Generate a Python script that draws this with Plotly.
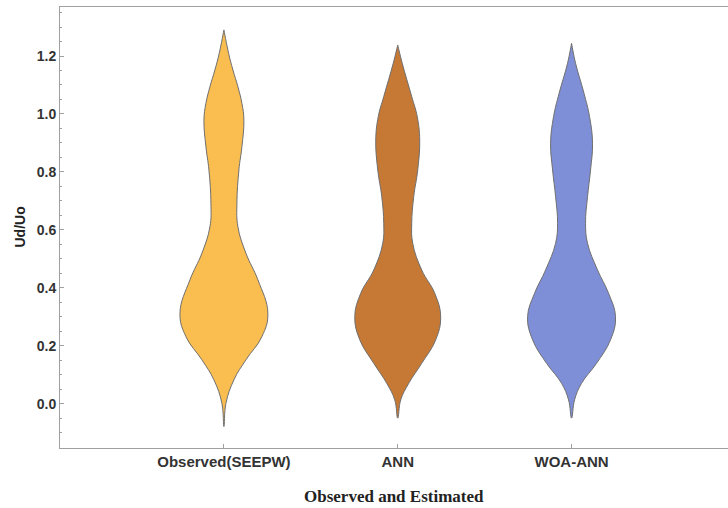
import plotly.graph_objects as go

# Categories and colours
categories = ["Observed(SEEPW)", "ANN", "WOA-ANN"]
fill_colors = ["#F9BD50", "#C57935", "#7E8ED7"]

# Violin outlines: Ud/Uo levels and half-widths (pixels at this chart scale)
obs_levels = [-0.078, 0.002, 0.083, 0.152, 0.232, 0.313, 0.428, 0.520, 0.611,
              0.692, 0.807, 0.887, 0.979, 1.037, 1.094, 1.152, 1.209, 1.290]
obs_width = [0, 2, 10, 22, 38, 44, 34, 22, 14, 13, 15, 18, 20, 18, 14, 9, 4.7, 0]

ann_levels = [-0.049, 0.014, 0.071, 0.140, 0.221, 0.301, 0.382, 0.462, 0.554,
              0.623, 0.715, 0.807, 0.910, 0.991, 1.060, 1.175, 1.238]
ann_width = [0, 3, 11, 24, 38, 43, 37, 24, 15, 14, 16, 20, 22, 19.5, 14, 4.5, 0]

woa_levels = [-0.049, 0.014, 0.071, 0.140, 0.221, 0.301, 0.382, 0.462, 0.554,
              0.623, 0.715, 0.807, 0.899, 0.991, 1.071, 1.175, 1.244]
woa_width = [0, 3, 10, 25, 39, 44, 37, 26, 16, 14, 16, 19, 21, 18, 12.5, 4, 0]

profiles = [(obs_levels, obs_width), (ann_levels, ann_width), (woa_levels, woa_width)]

PX_PER_UNIT = 174.0  # horizontal pixels per category step

fig = go.Figure()
for i, (levels, widths) in enumerate(profiles):
    center = i + 1
    half = [w / PX_PER_UNIT for w in widths]
    xs = [center + h for h in half] + [center - h for h in reversed(half)]
    ys = list(levels) + list(reversed(levels))
    fig.add_trace(go.Scatter(
        x=xs, y=ys, mode="lines", fill="toself",
        fillcolor=fill_colors[i],
        line=dict(color="#6f6f6f", width=1, shape="spline", smoothing=1.2),
        hoverinfo="skip", showlegend=False,
    ))

tick_font = dict(family="Liberation Sans, Arial, sans-serif", size=14, color="#333333")
xtick_font = dict(family="Liberation Sans, Arial, sans-serif", size=15, color="#333333")

fig.update_layout(
    width=728, height=508,
    margin=dict(l=60, r=0, t=7, b=60),
    paper_bgcolor="white", plot_bgcolor="white",
    xaxis=dict(
        range=[0.057, 3.9], tickmode="array", tickvals=[1, 2, 3],
        ticktext=["<b>%s</b>" % c for c in categories],
        showline=True, mirror=True, linecolor="#a0a0a0", linewidth=1,
        ticks="inside", ticklen=4, tickcolor="#a0a0a0",
        showgrid=False, zeroline=False, tickfont=xtick_font,
    ),
    yaxis=dict(
        range=[-0.152, 1.369], tickmode="array",
        tickvals=[0.0, 0.2, 0.4, 0.6, 0.8, 1.0, 1.2],
        ticktext=["<b>%.1f</b>" % v for v in [0.0, 0.2, 0.4, 0.6, 0.8, 1.0, 1.2]],
        showline=True, mirror=False, linecolor="#a0a0a0", linewidth=1,
        ticks="inside", ticklen=4, tickcolor="#a0a0a0",
        minor=dict(dtick=0.05, tick0=0, ticks="inside", ticklen=2, tickcolor="#a0a0a0"),
        showgrid=False, zeroline=False, tickfont=tick_font,
    ),
    annotations=[
        dict(text="<b>Ud/Uo</b>", xref="paper", yref="paper", x=0, y=0.5,
             xshift=-41, xanchor="center", yanchor="middle", textangle=-90,
             showarrow=False,
             font=dict(family="Liberation Sans, Arial, sans-serif", size=14, color="#222222")),
        dict(text="<b>Observed and Estimated</b>", xref="paper", yref="paper",
             x=0, y=0, xshift=334, yshift=-48, xanchor="center", yanchor="middle",
             showarrow=False,
             font=dict(family="Liberation Serif, Times New Roman, serif", size=17, color="#222222")),
    ],
)

fig.write_html("out.html")
